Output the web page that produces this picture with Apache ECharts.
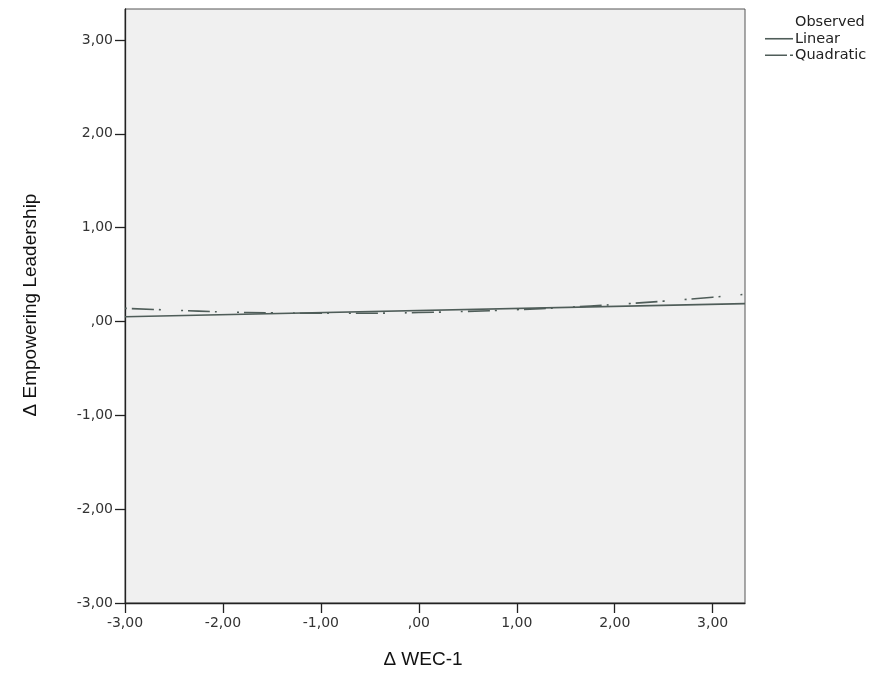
<!DOCTYPE html>
<html>
<head>
<meta charset="utf-8">
<script src="https://cdn.jsdelivr.net/npm/echarts@6/dist/echarts.min.js"></script>
<style>html,body{margin:0;padding:0;background:#fff}#c{width:871px;height:682px}</style>
</head>
<body>
<div id="c"></div>
<script>
const tickValues = [-3, -2, -1, 0, 1, 2, 3];
const linearX = [-3, 3.33];
const linearY = [0.05, 0.19];
const quadX = [-3, -2.5, -2, -1.5, -1, -0.5, 0, 0.5, 1, 1.5, 2, 2.5, 3, 3.33];
const quadY = [0.14, 0.12, 0.102, 0.092, 0.087, 0.088, 0.095, 0.108, 0.126, 0.15, 0.181, 0.217, 0.259, 0.29];
const legendNames = ['Observed', 'Linear', 'Quadratic'];
const xTitle = 'Δ WEC-1';
const yTitle = 'Δ Empowering Leadership';

function fmt(v) {
  let s = Math.abs(v).toFixed(2).replace('.', ',');
  if (s.startsWith('0,')) s = s.slice(1);
  return (v < 0 ? '-' : '') + s;
}
const lineColor = '#4f5d59';
const labelFont = 'DejaVu Sans';

const chart = echarts.init(document.getElementById('c'));
const axisCommon = {
  type: 'value', min: -3, max: 3.33,
  splitLine: { show: false },
  axisLine: { show: true, onZero: false, lineStyle: { color: '#222', width: 1.3 } },
  axisTick: { show: true, length: 10, customValues: tickValues, lineStyle: { color: '#222', width: 1.3 } },
  axisLabel: { customValues: tickValues, formatter: fmt, color: '#333', fontFamily: labelFont, fontSize: 14 }
};
chart.setOption({
  animation: false,
  grid: { left: 125, right: 126, top: 9, bottom: 79, show: true, backgroundColor: '#f0f0f0', borderColor: '#555', borderWidth: 1 },
  xAxis: Object.assign({}, axisCommon, { axisLabel: Object.assign({}, axisCommon.axisLabel, { margin: 13 }) }),
  yAxis: Object.assign({}, axisCommon, { axisLabel: Object.assign({}, axisCommon.axisLabel, { margin: 12 }) }),
  legend: {
    orient: 'vertical', left: 760, top: 9, itemGap: 0, itemWidth: 28, itemHeight: 10,
    textStyle: { fontFamily: labelFont, fontSize: 14.5, lineHeight: 16.5, color: '#222', padding: [0, 0, 0, -3] },
    data: [
      { name: legendNames[0], icon: 'none' },
      { name: legendNames[1], icon: 'path://M0,0h28v1.6h-28z' },
      { name: legendNames[2], icon: 'path://M0,0h22v1.6h-22z M25,0h3v1.6h-3z' }
    ]
  },
  series: [
    { name: legendNames[0], type: 'scatter', data: [] },
    { name: legendNames[1], type: 'line', symbol: 'none', data: linearX.map((x, i) => [x, linearY[i]]),
      lineStyle: { color: lineColor, width: 1.6 }, itemStyle: { color: lineColor } },
    { name: legendNames[2], type: 'line', symbol: 'none', smooth: true, data: quadX.map((x, i) => [x, quadY[i]]),
      lineStyle: { color: lineColor, width: 1.6, type: [2, 5, 22, 5, 2, 20] }, itemStyle: { color: lineColor } }
  ],
  graphic: [
    { type: 'text', x: 423, y: 660, style: { text: xTitle, fontFamily: 'Liberation Sans', fontSize: 19, fill: '#111', align: 'center', verticalAlign: 'middle' } },
    { type: 'text', x: 31, y: 305, rotation: Math.PI / 2, style: { text: yTitle, fontFamily: 'Liberation Sans', fontSize: 19, fill: '#111', align: 'center', verticalAlign: 'middle' } }
  ]
});
</script>
</body>
</html>
